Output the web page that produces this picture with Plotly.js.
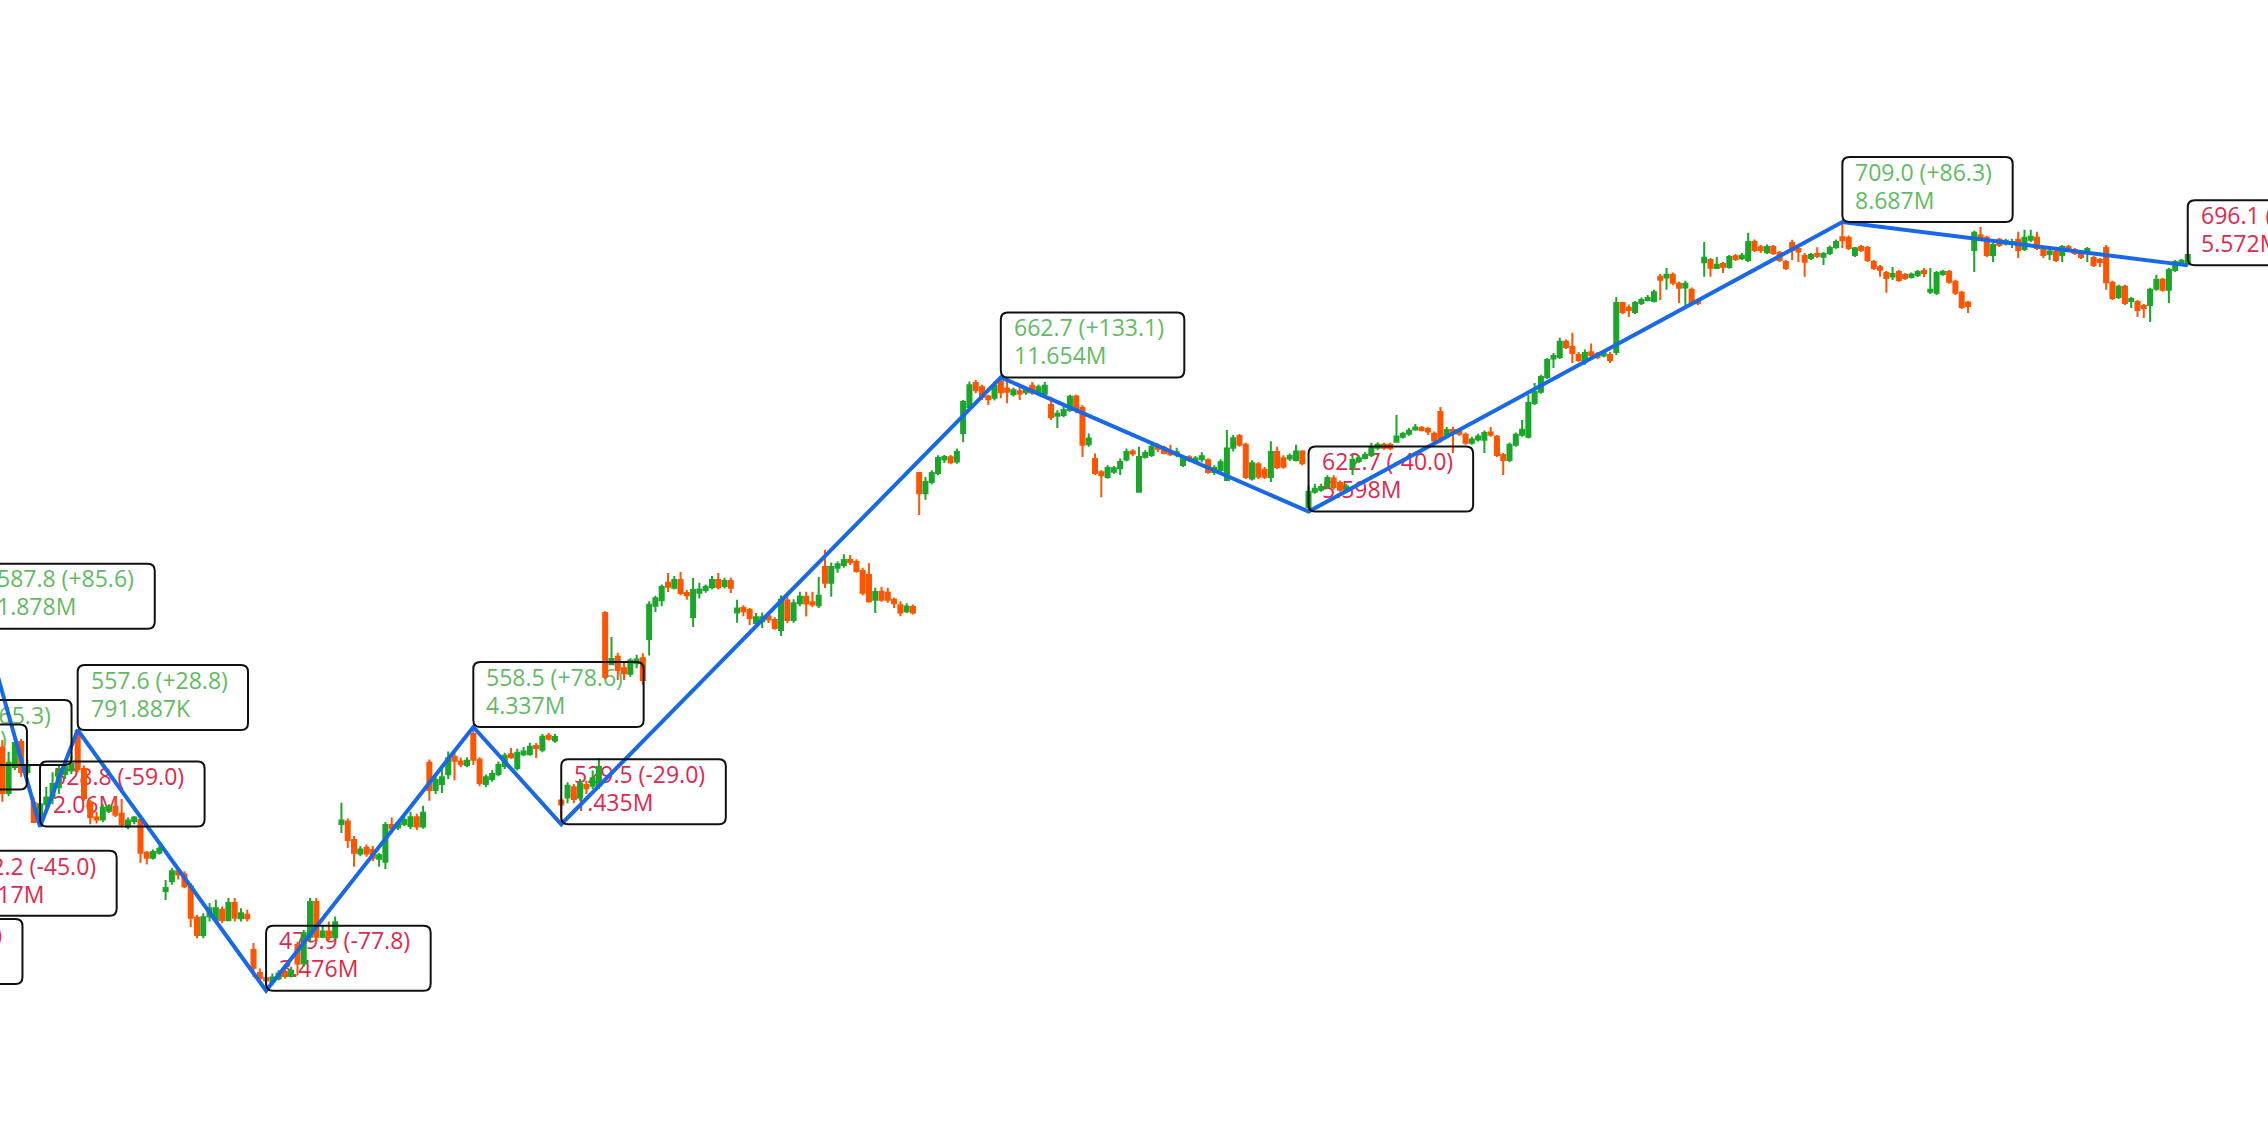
<!DOCTYPE html>
<html>
<head>
<meta charset="utf-8">
<script src="https://cdn.plot.ly/plotly-3.0.1.min.js"></script>
<style>
html, body { margin: 0; padding: 0; overflow: hidden; background: #ffffff; width: 2268px; height: 1148px; }
#chart { position: absolute; left: -300px; top: 0; width: 2868px; height: 1148px; }
</style>
</head>
<body>
<div id="chart"></div>
<script>
// ---- candle data (bar index order) ----
const open = [
552.3,538.8,546.6,554.0,545.1,535.9,530.2,535.5,537.5,540.5,
544.5,545.5,557.3,546.0,536.0,531.5,530.9,533.5,534.7,532.6,
528.8,530.5,530.8,521.0,519.5,521.0,509.6,512.5,515.5,514.5,
511.0,501.6,496.5,502.0,501.0,504.0,501.0,506.0,501.5,502.5,
492.0,485.2,483.6,482.5,483.5,485.5,484.3,493.5,488.0,496.0,
506.3,496.0,497.5,495.8,529.6,530.3,524.8,520.8,522.5,521.8,
519.2,518.3,529.3,528.5,529.6,529.0,531.6,528.8,547.8,539.7,
541.5,544.4,549.6,548.2,547.2,556.4,548.7,541.5,543.0,544.5,
546.9,550.4,546.3,550.4,550.4,552.8,551.7,555.9,554.5,536.6,
537.5,540.5,537.5,541.2,541.0,541.0,592.5,577.2,579.4,576.0,
574.4,577.5,579.0,584.7,594.6,596.3,601.5,600.0,602.3,598.4,
591.3,598.5,599.3,600.2,602.3,600.5,602.0,592.6,594.0,593.4,
589.5,590.0,591.5,590.4,587.4,596.2,590.4,595.4,597.3,595.7,
594.8,606.2,601.5,606.0,606.8,608.3,607.7,605.0,603.8,596.4,
598.8,598.5,596.4,594.8,593.0,594.3,634.2,628.2,631.5,634.2,
638.2,638.9,637.6,646.1,653.9,661.0,659.8,657.0,656.6,661.5,
659.3,657.7,658.6,658.3,660.2,658.2,657.8,654.5,651.3,651.5,
653.0,657.0,653.6,642.8,638.4,634.4,633.0,634.6,635.7,638.2,
640.6,628.6,639.0,639.6,642.0,641.7,640.4,639.7,636.6,638.9,
637.7,638.3,638.0,634.5,635.1,632.1,641.7,645.2,642.6,632.6,
636.8,635.2,633.0,640.5,638.6,638.5,638.1,640.6,624.1,628.6,
629.2,630.0,632.6,631.2,629.2,636.0,637.8,638.7,639.6,641.7,
642.6,642.6,643.5,645.0,645.9,647.2,647.6,647.3,645.9,652.4,
645.6,647.0,646.6,645.6,643.2,644.2,644.1,646.3,645.0,639.6,
638.1,642.6,645.6,645.0,655.1,658.4,662.8,668.3,668.8,673.3,
671.8,669.4,667.9,670.2,669.6,669.2,669.4,670.3,684.9,683.5,
682.2,684.9,685.8,685.5,692.7,692.5,693.3,690.6,689.5,688.8,
685.5,697.0,697.7,695.3,696.5,695.6,698.8,698.2,697.7,703.1,
701.5,700.0,701.6,699.8,697.1,702.8,701.0,698.9,698.3,699.5,
698.7,699.8,701.6,704.5,704.3,699.2,701.6,701.3,697.1,695.5,
693.8,692.8,694.1,693.2,692.6,693.2,694.4,688.2,687.9,693.5,
694.1,691.2,687.9,685.0,700.7,705.0,704.3,699.2,703.7,702.6,
702.6,703.7,701.0,703.7,704.3,700.7,699.5,700.1,699.2,701.6,
700.7,699.5,700.4,698.3,697.7,701.3,690.9,686.7,689.7,685.5,
685.2,684.0,684.3,689.1,691.8,688.8,694.7,696.8,696.4
];
const high = [
554.6,551.1,556.7,554.9,548.7,537.5,538.0,540.6,545.0,547.0,
548.5,550.0,557.6,547.0,536.8,533.2,535.5,535.5,537.6,537.0,
531.5,532.0,532.3,521.5,522.0,523.0,512.9,516.5,516.5,515.5,
512.0,502.5,503.0,506.0,507.0,505.0,507.5,507.5,504.5,504.0,
494.1,486.5,485.0,485.0,486.0,486.5,487.0,494.5,498.0,507.5,
507.5,499.5,500.5,502.0,535.9,531.2,526.0,523.0,523.5,523.0,
521.0,530.2,531.5,530.5,531.8,533.2,532.6,535.0,548.8,544.0,
546.5,551.2,550.8,549.4,549.5,558.5,549.5,544.3,545.6,548.2,
550.8,552.2,552.0,552.5,553.8,553.7,556.4,556.7,556.4,537.5,
542.0,541.5,543.0,542.5,545.5,549.2,593.0,585.3,580.6,578.0,
579.0,580.0,580.5,596.0,597.6,601.0,604.4,603.5,604.7,599.3,
602.9,601.5,601.0,603.5,604.4,603.0,603.0,596.4,594.8,594.0,
592.5,592.6,592.5,591.2,597.8,597.5,596.6,598.8,598.8,598.8,
603.2,611.3,607.5,607.8,610.0,609.8,608.5,606.0,607.3,600.0,
600.3,600.0,597.0,596.0,595.4,595.0,634.5,633.0,635.0,639.5,
639.6,639.6,641.5,656.0,661.5,661.9,660.5,657.5,661.5,662.7,
661.5,659.6,660.0,659.9,661.3,660.6,661.3,656.9,652.9,654.0,
657.5,657.5,654.5,646.0,640.0,635.0,636.5,636.3,638.5,641.5,
641.3,642.0,641.0,643.5,643.0,642.3,642.6,641.7,639.5,639.5,
639.3,640.4,638.6,636.5,638.3,647.0,645.5,645.8,643.2,638.0,
637.4,636.0,643.7,642.0,639.5,640.0,642.6,641.0,630.5,631.0,
631.0,633.5,633.5,632.0,631.0,639.6,639.4,640.5,643.2,643.4,
643.2,643.2,651.5,646.5,647.6,648.8,648.2,648.0,646.6,653.9,
647.9,648.0,647.5,646.3,645.0,645.9,646.9,647.9,645.5,640.2,
643.3,646.3,650.0,657.5,661.0,663.5,668.5,670.0,674.5,674.0,
676.0,670.3,671.0,672.8,670.3,670.6,670.3,686.7,685.2,684.4,
685.5,686.5,687.3,688.8,693.5,695.3,694.0,691.2,691.5,689.5,
686.1,703.1,698.3,698.6,697.1,699.2,699.5,699.8,705.8,703.8,
702.2,702.3,702.2,700.4,697.7,703.7,701.6,699.8,699.8,701.5,
700.1,702.0,703.8,709.0,705.0,701.6,702.2,701.9,697.7,696.2,
694.4,695.6,694.7,693.8,694.0,694.7,695.3,695.3,694.4,694.7,
694.7,691.8,688.5,685.5,706.4,707.5,704.9,702.8,704.3,704.0,
704.0,706.1,706.7,706.7,706.1,701.3,701.0,700.7,702.2,702.2,
701.3,700.1,701.6,698.9,698.3,702.2,691.5,690.3,690.3,686.7,
685.8,684.6,689.4,693.3,692.4,695.3,697.7,698.0,699.5
];
const low = [
536.2,537.9,545.7,543.6,544.2,529.9,528.8,533.0,535.5,538.5,
543.0,544.5,545.0,536.5,529.5,529.7,530.2,533.0,531.7,529.0,
528.0,529.5,518.0,517.5,519.0,520.5,506.9,511.5,513.0,510.5,
498.9,495.5,495.5,500.5,500.3,500.0,500.5,500.5,500.5,500.5,
484.0,482.0,479.9,481.5,483.0,483.5,483.8,484.5,487.0,494.5,
494.5,495.5,495.0,495.2,526.9,522.4,516.8,520.0,519.8,518.5,
516.8,516.2,527.5,527.8,529.0,528.0,527.8,528.2,536.5,538.5,
538.8,543.0,542.6,546.5,546.5,547.2,540.8,540.5,542.2,543.8,
546.0,549.0,545.5,549.8,549.9,549.2,551.0,554.5,553.8,529.5,
535.8,535.8,536.5,538.5,540.0,540.0,572.7,577.0,572.5,572.5,
573.5,576.0,571.0,579.8,592.8,594.5,598.7,599.5,597.8,596.4,
588.3,596.8,598.5,599.5,599.5,599.8,598.4,589.6,591.5,588.9,
588.3,588.0,589.5,587.5,585.6,589.5,589.6,594.5,591.4,594.3,
594.0,599.9,597.3,604.5,606.0,606.8,604.5,597.8,595.5,592.5,
595.8,595.5,594.0,591.5,592.5,592.0,621.7,626.2,630.8,633.5,
637.2,636.8,637.0,643.4,653.0,658.0,656.0,654.5,655.8,656.5,
655.0,657.0,656.0,657.5,657.5,657.5,657.0,650.0,647.6,650.8,
652.5,652.0,639.0,642.0,633.6,627.0,632.5,634.0,633.6,637.6,
639.2,628.6,638.5,639.0,640.5,639.8,639.3,638.9,636.0,637.5,
637.0,637.4,634.0,633.6,634.6,631.8,640.6,642.0,632.4,632.0,
632.4,632.4,631.5,635.3,635.5,637.8,637.6,636.5,622.7,628.0,
628.6,629.5,629.2,628.6,628.6,633.6,637.2,638.2,639.0,641.0,
641.1,641.0,643.2,644.5,645.3,646.8,646.6,645.5,643.3,643.2,
645.0,640.2,645.3,642.6,642.6,643.6,640.2,645.0,639.0,633.6,
637.4,642.0,645.0,644.5,654.5,657.8,662.2,665.5,668.2,671.2,
667.0,667.3,666.5,668.5,668.1,668.7,667.0,669.4,681.5,680.7,
681.6,684.3,685.3,685.0,685.8,688.8,690.2,684.9,684.3,684.6,
684.3,692.7,692.7,695.0,693.8,695.1,697.4,697.7,697.1,700.1,
699.8,699.5,699.2,697.1,694.7,697.7,697.1,692.7,697.7,698.3,
696.2,699.2,701.0,701.3,700.7,698.6,700.1,697.1,694.7,692.7,
687.9,691.7,691.2,691.7,692.2,692.6,692.6,687.6,687.3,693.0,
690.6,687.3,683.1,681.9,694.1,703.7,698.6,697.1,701.6,702.0,
701.3,698.3,700.4,703.1,700.7,698.3,697.7,697.1,697.1,700.4,
699.2,698.0,697.1,695.6,695.6,688.8,685.8,686.1,684.3,683.4,
680.7,680.4,679.2,688.5,688.2,684.9,694.1,696.2,696.1
];
const close = [
538.8,547.8,553.7,545.1,546.6,530.2,535.5,537.5,541.5,545.5,
546.5,547.5,546.0,537.3,531.7,530.9,534.4,534.8,532.3,529.6,
530.6,531.5,521.0,519.5,521.2,522.2,510.5,515.5,514.5,511.0,
501.6,496.5,501.8,504.5,504.5,501.0,506.0,501.6,503.0,501.5,
486.7,483.6,483.0,483.8,485.0,484.3,485.8,488.0,497.0,506.3,
496.0,497.5,495.8,500.3,530.6,524.8,521.0,522.0,520.8,519.5,
520.3,529.3,528.3,529.8,530.8,531.6,528.8,532.9,539.7,542.7,
543.5,549.2,548.4,547.4,548.4,548.7,541.8,543.5,544.5,547.2,
549.9,549.5,550.8,551.2,552.6,552.2,555.6,555.0,555.5,535.4,
541.0,537.0,541.5,540.2,543.2,546.6,573.5,578.8,575.5,574.5,
578.3,578.6,572.5,594.9,596.9,600.2,600.3,602.3,598.4,597.8,
599.3,599.5,600.3,602.3,600.2,602.0,600.0,593.8,593.0,591.0,
591.2,591.2,590.5,588.0,596.4,590.4,595.4,597.3,595.3,595.0,
597.6,601.5,606.2,607.0,608.3,607.6,605.0,598.5,596.0,598.7,
596.4,596.4,595.4,592.6,594.4,592.6,628.2,631.5,634.2,638.7,
639.0,637.4,640.5,655.4,660.4,658.9,656.9,656.2,660.2,658.3,
658.4,658.9,657.9,659.2,658.1,659.8,660.2,650.9,651.9,653.0,
656.9,653.0,642.6,644.5,634.2,633.5,635.7,635.6,637.5,640.5,
640.0,639.0,640.2,642.0,641.4,640.2,639.8,640.4,638.7,638.1,
638.5,639.2,634.5,635.7,637.4,641.5,644.6,642.6,633.0,637.1,
633.2,633.1,640.5,636.0,636.1,639.3,640.6,637.1,628.6,629.5,
630.0,632.7,630.0,629.2,630.2,638.1,638.6,639.6,642.0,642.6,
641.7,641.6,645.1,645.8,646.8,647.8,647.0,646.6,643.9,644.6,
647.0,646.3,645.9,643.2,644.2,645.1,646.1,645.6,639.6,638.1,
642.6,645.6,647.1,655.1,658.4,662.8,667.9,669.1,673.3,671.8,
670.0,667.9,670.0,669.3,668.8,669.9,667.9,684.9,682.2,682.8,
684.9,685.8,686.4,688.1,691.8,693.3,690.9,689.4,690.6,685.2,
684.8,698.4,695.4,696.3,695.7,698.6,698.0,699.0,703.1,700.7,
700.7,701.6,699.8,697.7,695.3,700.7,700.2,697.2,699.2,698.9,
699.5,701.3,703.1,703.6,701.3,701.2,700.7,697.7,695.3,694.8,
692.3,693.5,691.7,692.3,693.4,694.1,693.8,688.8,693.8,694.2,
691.2,687.9,683.7,684.0,705.8,704.3,699.2,702.2,702.2,703.4,
703.1,700.7,704.3,704.6,701.3,699.2,700.2,697.7,701.6,701.0,
699.8,698.6,701.0,696.2,697.1,691.1,686.4,689.7,684.9,686.1,
682.8,683.4,688.8,691.8,688.8,694.7,697.1,697.5,699.2
];

// ---- zigzag pivots ----
const zzX = [-23.2, -23.0, -16.1, -8.0, -2.85, 6, 12, 42, 75, 89, 159, 208, 293, 348];
const zzY = [539.9, 481.9, 547.2, 502.2, 587.8, 528.8, 557.6, 479.9, 558.5, 529.5, 662.7, 622.7, 709.0, 696.1];
const zzChange = [58.0, -58.0, 65.3, -45.0, 85.6, -59.0, 28.8, -77.8, 78.6, -29.0, 133.1, -40.0, 86.3, -12.9];
const zzVolume = ["1.264M", "2.390M", "3.602M", "5.117M", "1.878M", "2.06M", "791.887K", "3.476M", "4.337M", "1.435M", "11.654M", "5.598M", "8.687M", "5.572M"];

const barIndex = open.map((_, i) => i);

const UP = '#1aa72a', DOWN = '#ff5500';
const TXT_UP = '#5fbb63', TXT_DOWN = '#e0284f';
const FONT_NAME = 'Open Sans';
const FONT_SIZE = 23;

const ctx = document.createElement('canvas').getContext('2d');
ctx.font = FONT_SIZE + "px '" + FONT_NAME + "'";

const shapes = [], annotations = [];
zzX.forEach((x, k) => {
  const chg = zzChange[k];
  const line1 = zzY[k].toFixed(1) + ' (' + (chg > 0 ? '+' : '') + chg.toFixed(1) + ')';
  const line2 = zzVolume[k];
  const W = Math.max(ctx.measureText(line1).width, ctx.measureText(line2).width) + 33.5;
  const H = 65, r = 7;
  const path = `M ${r},0 L ${W - r},0 Q ${W},0 ${W},${r} L ${W},${H - r} Q ${W},${H} ${W - r},${H} L ${r},${H} Q 0,${H} 0,${H - r} L 0,${r} Q 0,0 ${r},0 Z`;
  shapes.push({
    type: 'path', xref: 'x', yref: 'y', xsizemode: 'pixel', ysizemode: 'pixel',
    xanchor: x, yanchor: zzY[k], path: path,
    line: { color: '#111111', width: 2 }, fillcolor: 'rgba(0,0,0,0)', layer: 'above'
  });
  const color = chg >= 0 ? TXT_UP : TXT_DOWN;
  [[line1, 34.3], [line2, 6.3]].forEach(([txt, ys]) => {
    annotations.push({
      x: x, y: zzY[k], xref: 'x', yref: 'y', showarrow: false,
      xanchor: 'left', yanchor: 'bottom', xshift: 13, yshift: ys, align: 'left',
      text: txt, borderpad: 0, borderwidth: 0,
      font: { family: "'" + FONT_NAME + "', sans-serif", size: FONT_SIZE, color: color }
    });
  });
});

const traces = [
  {
    type: 'candlestick', x: barIndex, open: open, high: high, low: low, close: close,
    increasing: { line: { color: UP, width: 2 }, fillcolor: UP },
    decreasing: { line: { color: DOWN, width: 2 }, fillcolor: DOWN },
    whiskerwidth: 0, hoverinfo: 'skip'
  },
  {
    type: 'scatter', mode: 'lines', x: zzX, y: zzY,
    line: { color: '#1769e8', width: 4 }, hoverinfo: 'skip'
  }
];

const layout = {
  width: 2868, height: 1148,
  margin: { l: 0, r: 0, t: 0, b: 0, pad: 0 },
  paper_bgcolor: '#ffffff', plot_bgcolor: '#ffffff',
  showlegend: false,
  boxgap: 0.2, boxgroupgap: 0.2,
  xaxis: { visible: false, range: [-48.14, 408.55], rangeslider: { visible: false }, fixedrange: true },
  yaxis: { visible: false, range: [433.0, 775.2], fixedrange: true },
  shapes: shapes,
  annotations: annotations
};

Plotly.newPlot('chart', traces, layout, { staticPlot: true, displayModeBar: false }).then(gd => {
  // put the label texts underneath the candles and the zigzag line, as in the reference
  const mainSvg = gd.querySelector('svg.main-svg');
  const cart = mainSvg && mainSvg.querySelector('g.cartesianlayer');
  const info = gd.querySelector('g.infolayer');
  if (mainSvg && cart && info) {
    const holder = document.createElementNS('http://www.w3.org/2000/svg', 'g');
    holder.setAttribute('class', 'label-under-layer');
    info.querySelectorAll('g.annotation').forEach(a => holder.appendChild(a));
    mainSvg.insertBefore(holder, cart);
  }
});
</script>
</body>
</html>
